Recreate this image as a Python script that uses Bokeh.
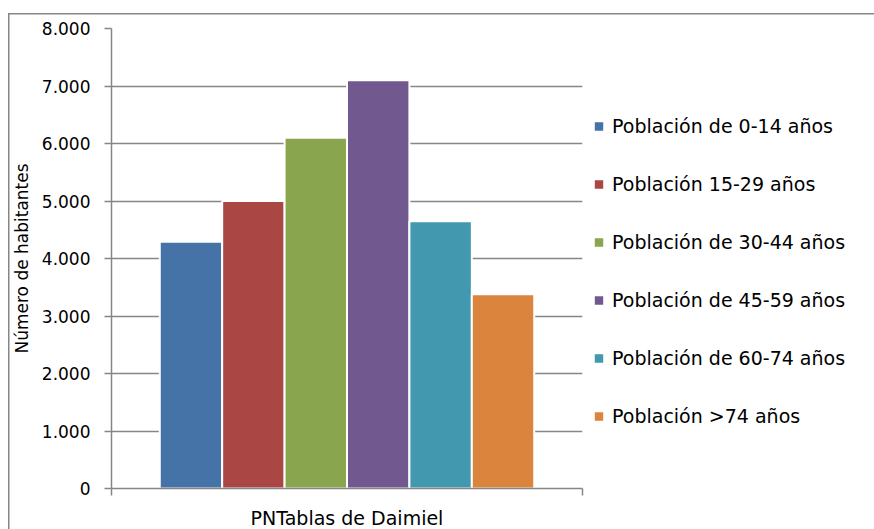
from bokeh.plotting import figure
from bokeh.models import Range1d, FixedTicker, Legend, LegendItem, ColumnDataSource
from bokeh.embed import file_html
from bokeh.resources import INLINE

categories = ["PNTablas de Daimiel"]
series = ["Población de 0-14 años", "Población 15-29 años", "Población de 30-44 años",
          "Población de 45-59 años", "Población de 60-74 años", "Población >74 años"]
values = [4290, 5000, 6100, 7100, 4650, 3380]
colors = ["#4572A7", "#AA4643", "#89A54E", "#71588F", "#4198AF", "#DB843D"]
y_ticks = [0, 1000, 2000, 3000, 4000, 5000, 6000, 7000, 8000]
y_tick_labels = ["0", "1.000", "2.000", "3.000", "4.000", "5.000", "6.000", "7.000", "8.000"]

FONT = "DejaVu Sans"
GRID = "#868686"

chart_border_css = {
    "background-image": f"linear-gradient({GRID}, {GRID}), linear-gradient({GRID}, {GRID})",
    "background-position": "8px 13px, 8px 13px",
    "background-size": "1.5px 100%, 100% 1.5px",
    "background-repeat": "no-repeat, no-repeat",
    "background-color": "white",
}

p = figure(frame_width=471, frame_height=460, output_backend="svg", toolbar_location=None,
           x_range=Range1d(0, len(categories)), y_range=Range1d(0, 8000),
           min_border_left=111, min_border_right=292, min_border_top=28, min_border_bottom=41,
           styles=chart_border_css)
p.outline_line_color = None
p.background_fill_color = "white"
p.border_fill_alpha = 0

n = len(series)
group_w = 0.795
bar_w = group_w / n
items = []
for i, (name, v, c) in enumerate(zip(series, values, colors)):
    xc = 0.5 + (i - (n - 1) / 2) * bar_w
    src = ColumnDataSource(dict(x=[xc], top=[v]))
    r = p.vbar(x="x", top="top", bottom=0, width=bar_w, source=src,
               fill_color=c, line_color="white", line_width=2)
    items.append(LegendItem(label=name, renderers=[r]))

# axes
xa = p.xaxis[0]
xa.ticker = FixedTicker(ticks=[0, len(categories)])
xa.major_label_overrides = {0: "", len(categories): ""}
xa.major_label_text_font_size = "0px"
xa.major_label_standoff = 0
xa.axis_label = categories[0]
xa.axis_label_standoff = 11
xa.axis_label_text_font = FONT
xa.axis_label_text_font_style = "normal"
xa.axis_label_text_font_size = "19px"
xa.axis_label_text_color = "#000000"
xa.axis_line_color = GRID
xa.axis_line_width = 1.5
xa.major_tick_line_color = GRID
xa.major_tick_line_width = 1.5
xa.major_tick_out = 7
xa.major_tick_in = 0
xa.minor_tick_line_color = None

ya = p.yaxis[0]
ya.ticker = FixedTicker(ticks=y_ticks)
ya.major_label_overrides = {t: l for t, l in zip(y_ticks, y_tick_labels)}
ya.major_label_text_font = FONT
ya.major_label_text_font_size = "17px"
ya.major_label_text_color = "#000000"
ya.major_label_standoff = 14
ya.axis_label = "Número de habitantes"
ya.axis_label_text_font = FONT
ya.axis_label_text_font_style = "normal"
ya.axis_label_text_font_size = "17px"
ya.axis_label_text_color = "#000000"
ya.axis_label_standoff = 7
ya.axis_line_color = GRID
ya.axis_line_width = 1.5
ya.major_tick_line_color = GRID
ya.major_tick_line_width = 1.5
ya.major_tick_out = 7
ya.major_tick_in = 0
ya.minor_tick_line_color = None

p.xgrid.grid_line_color = None
p.ygrid.ticker = FixedTicker(ticks=y_ticks)
p.ygrid.grid_line_color = GRID
p.ygrid.grid_line_width = 1.5

legend = Legend(items=items, location="left", orientation="vertical",
                title=" ", title_text_font_size="19px", title_standoff=3,
                glyph_width=13, glyph_height=13, label_height=20, spacing=36,
                label_standoff=7, padding=0, margin=10,
                label_text_font=FONT, label_text_font_size="19px", label_text_color="#000000",
                border_line_color=None, background_fill_alpha=0)
p.add_layout(legend, "right")

open("out.html", "w").write(file_html(p, INLINE))
